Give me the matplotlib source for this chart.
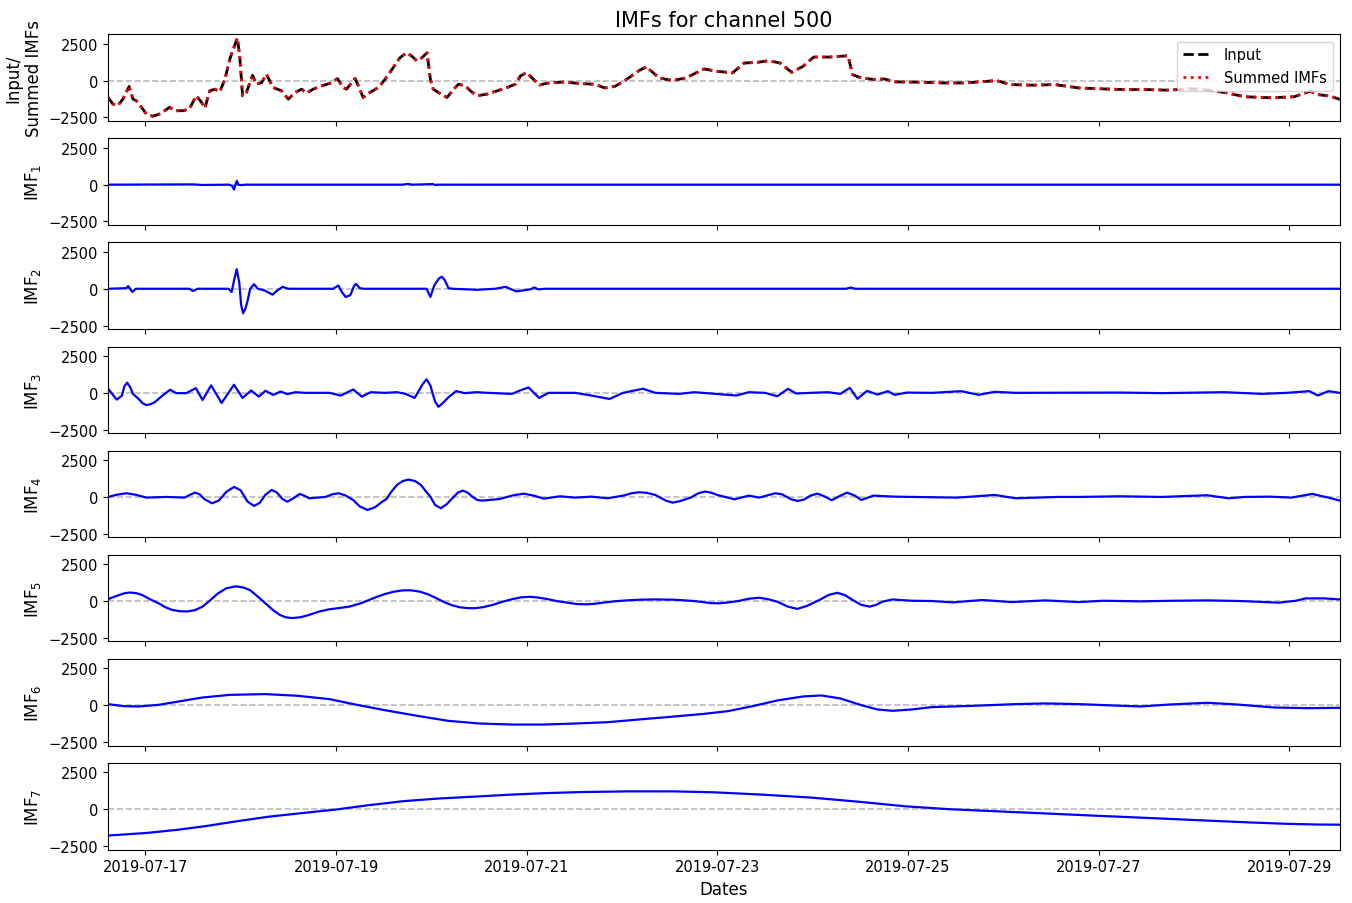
import numpy as np
import pandas as pd
import matplotlib
matplotlib.use('Agg')
import matplotlib.pyplot as plt
import matplotlib.dates as mdates

# time values are days after 2019-07-17 00:00
base = pd.Timestamp('2019-07-17')

input_t = [-0.39, -0.34, -0.29, -0.235, -0.17, -0.13, -0.095, -0.04, 0.01, 0.08, 0.15, 0.255, 0.31, 0.395,
           0.46, 0.535, 0.59, 0.625, 0.675, 0.73, 0.78, 0.835, 0.885, 0.94, 0.965, 0.99, 1.02, 1.06, 1.125,
           1.165, 1.22, 1.27, 1.34, 1.43, 1.50, 1.57, 1.64, 1.69, 1.76, 1.85, 1.94, 2.015, 2.075, 2.11, 2.20,
           2.235, 2.285, 2.355, 2.445, 2.515, 2.60, 2.67, 2.74, 2.795, 2.85, 2.90, 2.955, 2.99, 3.02, 3.09,
           3.165, 3.235, 3.285, 3.355, 3.41, 3.48, 3.585, 3.69, 3.795, 3.88, 3.935, 4.00, 4.085, 4.135, 4.24,
           4.40, 4.555, 4.715, 4.82, 4.925, 5.03, 5.185, 5.26, 5.29, 5.39, 5.53, 5.67, 5.86, 6.00, 6.16, 6.28,
           6.42, 6.54, 6.66, 6.78, 6.90, 7.01, 7.18, 7.37, 7.42, 7.51, 7.65, 7.75, 7.87, 8.13, 8.37, 8.60,
           8.93, 9.07, 9.31, 9.54, 9.79, 10.02, 10.26, 10.49, 10.73, 10.96, 11.10, 11.34, 11.53, 11.81,
           12.05, 12.22, 12.29, 12.43, 12.53]
input_v = [-1150, -1600, -1710, -1260, -400, -1260, -1370, -1820, -2270, -2430, -2270, -1820, -2050, -2050,
           -1935, -1035, -1485, -1870, -700, -585, -765, 90, 1440, 2450, 2900, 1665, -1035, -810, 360,
           -250, -135, 430, -470, -700, -1260, -810, -585, -855, -585, -360, -180, 135, -470, -585, 135,
           -360, -1150, -810, -470, 90, 880, 1550, 1890, 1665, 1330, 1550, 1890, 90, -585, -880,
           -1150, -585, -250, -360, -700, -1035, -920, -700, -470, -250, 315, 550, 0, -300, -150,
           -100, -200, -250, -500, -400, 0, 700, 950, 740, 180, 0, 180, 790, 630, 520, 1190,
           1240, 1350, 1190, 560, 970, 1600, 1600, 1690, 400, 180, 70, 110, -90, -110, -160, -160,
           0, -270, -315, -270, -500, -560, -610, -610, -650, -560, -610, -830, -1100, -1170,
           -1100, -720, -945, -1060, -1280]
# the summed IMFs lie on top of the input in the picture
summed_v = list(input_v)

imf1_t = [-0.39, 0.5, 0.6, 0.88, 0.91, 0.93, 0.945, 0.96, 0.975, 1.0, 1.05, 2.7, 2.75, 2.8, 3.02, 3.04,
          3.06, 12.53]
imf1_v = [0, 20, -20, 0, -80, -330, 0, 260, 0, -30, 0, 0, 50, 0, 40, -30, 0, 0]

imf2_t = [-0.39, -0.20, -0.18, -0.136, -0.10, 0.46, 0.50, 0.55, 0.875, 0.905, 0.935, 0.958, 0.985, 1.005,
          1.026, 1.05, 1.07, 1.10, 1.14, 1.18, 1.25, 1.335, 1.385, 1.44, 1.50, 1.97, 2.025, 2.06, 2.10,
          2.15, 2.19, 2.21, 2.25, 2.29, 2.95, 2.99, 3.03, 3.08, 3.11, 3.14, 3.18, 3.22, 3.48, 3.67, 3.78,
          3.89, 4.04, 4.08, 4.12, 4.2, 7.35, 7.4, 7.45, 12.53]
imf2_v = [0, 40, 180, -220, 0, 0, -150, 0, 0, -220, 700, 1330, 440, -1100,
          -1670, -1350, -890, 0, 310, 0, -110, -400, -110, 130, 0, 0, 220, -200, -555,
          -440, 200, 330, 40, 0, 0, -555, 220, 700, 820, 600, 40, 0, -70, 0, 130,
          -180, -40, 90, -40, 0, 0, 80, 0, 0]

imf3_t = [-0.39, -0.30, -0.245, -0.22, -0.19, -0.16, -0.13, -0.07, -0.03, 0.01, 0.05, 0.095, 0.18, 0.26,
          0.325, 0.43, 0.53, 0.60, 0.69, 0.80, 0.93, 1.02, 1.11, 1.19, 1.26, 1.34, 1.42, 1.49, 1.575, 1.68,
          1.93, 2.05, 2.18, 2.27, 2.365, 2.51, 2.64, 2.73, 2.825, 2.91, 2.95, 2.99, 3.01, 3.04, 3.075,
          3.12, 3.18, 3.26, 3.35, 3.47, 3.595, 3.845, 3.93, 4.02, 4.13, 4.23, 4.51, 4.68, 4.87, 5.01,
          5.22, 5.35, 5.60, 5.76, 5.85, 6.02, 6.20, 6.33, 6.50, 6.63, 6.74, 6.83, 6.98, 7.16, 7.29, 7.39,
          7.47, 7.57, 7.68, 7.79, 7.86, 7.99, 8.25, 8.56, 8.74, 8.91, 9.13, 10.22, 10.66, 11.32, 11.71,
          11.97, 12.21, 12.30, 12.41, 12.53]
imf3_v = [280, -460, -185, 450, 690, 400, -70, -415, -700, -830, -780, -650, -185, 210,
          -20, -20, 320, -485, 510, -690, 550, -345, 160, -255, 140, -140, 90, -90, 45, 0,
          0, -185, 230, -255, 45, 0, 45, -70, -345, 600, 920, 500, 45, -600, -950,
          -700, -300, 120, -20, 45, 0, -70, 160, 370, -345, 0, 0, -185, -415, 0,
          280, 0, -70, 45, 0, -90, -180, 45, 0, -230, 270, -45, 0, 45, -70, 340,
          -410, 135, -115, 115, -135, 20, 0, 115, -135, 70, 0, 20, -20, 45, -70,
          0, 115, -180, 115, 0]

imf4_t = [-0.39, -0.30, -0.20, -0.10, 0.01, 0.22, 0.41, 0.47, 0.52, 0.57, 0.62, 0.70, 0.77, 0.85, 0.93,
          1.00, 1.07, 1.14, 1.20, 1.26, 1.325, 1.38, 1.44, 1.49, 1.55, 1.62, 1.67, 1.72, 1.89, 1.96, 2.03,
          2.10, 2.18, 2.25, 2.33, 2.41, 2.48, 2.53, 2.58, 2.64, 2.70, 2.76, 2.83, 2.89, 2.94, 2.99, 3.04,
          3.10, 3.16, 3.22, 3.28, 3.33, 3.38, 3.43, 3.48, 3.53, 3.62, 3.72, 3.85, 3.97, 4.08, 4.18, 4.35,
          4.51, 4.68, 4.85, 5.02, 5.10, 5.18, 5.26, 5.35, 5.46, 5.53, 5.60, 5.72, 5.80, 5.87, 5.93, 6.00,
          6.18, 6.33, 6.44, 6.55, 6.61, 6.68, 6.77, 6.84, 6.91, 6.98, 7.05, 7.12, 7.20, 7.28, 7.36, 7.44,
          7.51, 7.64, 7.86, 8.25, 8.52, 8.91, 9.13, 9.57, 9.79, 10.22, 10.66, 11.14, 11.36, 11.53, 11.80,
          12.02, 12.24, 12.41, 12.53]
imf4_v = [0, 150, 250, 150, -45, 0, -45, 150, 295, 180, -150, -430, -250, 350, 680,
          450, -300, -610, -400, 150, 475, 300, -150, -320, -100, 205, 80, -90, 0, 180, 250,
          100, -205, -650, -885, -700, -350, -135, 350, 820, 1080, 1180, 1080, 820, 400, 20, -550,
          -770, -500, -90, 300, 430, 300, 20, -200, -250, -200, -135, 100, 225, 80, -115, 45,
          -45, 20, -90, 100, 250, 320, 280, 135, -250, -385, -300, -45, 250, 365, 300, 135,
          -160, 90, -45, 150, 250, 180, -150, -270, -180, 100, 225, 50, -225, 50, 295, 100,
          -205, 90, 20, -20, -45, 135, -90, 0, 0, 45, 0, 115, -90, 0, 20,
          -45, 205, -45, -250]

imf5_t = [-0.39, -0.33, -0.28, -0.22, -0.16, -0.09, -0.03, 0.05, 0.14, 0.21, 0.28, 0.36, 0.44, 0.52, 0.60,
          0.68, 0.76, 0.85, 0.95, 1.03, 1.10, 1.18, 1.26, 1.34, 1.41, 1.47, 1.54, 1.63, 1.72, 1.82, 1.93,
          2.04, 2.14, 2.26, 2.35, 2.43, 2.52, 2.60, 2.69, 2.78, 2.88, 2.97, 3.06, 3.14, 3.22, 3.30, 3.38,
          3.45, 3.54, 3.64, 3.75, 3.85, 3.94, 4.03, 4.12, 4.22, 4.33, 4.43, 4.52, 4.62, 4.71, 4.80, 4.92,
          5.05, 5.20, 5.35, 5.55, 5.76, 5.85, 5.93, 6.02, 6.12, 6.22, 6.33, 6.44, 6.53, 6.63, 6.74, 6.84,
          6.94, 7.07, 7.17, 7.26, 7.34, 7.42, 7.51, 7.60, 7.67, 7.73, 7.84, 7.94, 8.04, 8.25, 8.47, 8.78,
          9.09, 9.44, 9.79, 10.05, 10.44, 10.79, 11.14, 11.49, 11.89, 12.07, 12.17, 12.37, 12.53]
imf5_v = [130, 280, 400, 530, 580, 530, 400, 120, -155, -420, -600, -690, -710, -620, -380,
          50, 510, 870, 1000, 920, 735, 300, -155, -620, -940, -1100, -1160, -1100, -940, -720, -560,
          -470, -380, -155, 80, 290, 490, 625, 720, 735, 640, 445, 170, -90, -290, -425, -480,
          -490, -420, -270, -40, 130, 250, 290, 240, 130, -20, -110, -200, -225, -190, -110, -20,
          45, 95, 110, 90, 0, -70, -140, -155, -90, 0, 160, 225, 130, -45, -380, -535,
          -330, 70, 420, 560, 400, 70, -260, -380, -250, -45, 110, 60, 20, 0, -90, 70,
          -70, 45, -70, 20, -20, 20, 45, 0, -110, 20, 180, 180, 110]

imf6_t = [-0.39, -0.23, -0.07, 0.14, 0.35, 0.60, 0.89, 1.26, 1.59, 1.93, 2.22, 2.51, 2.85, 3.18, 3.51,
          3.85, 4.18, 4.51, 4.85, 5.18, 5.51, 5.85, 6.11, 6.37, 6.63, 6.90, 7.09, 7.29, 7.51, 7.68, 7.84,
          8.04, 8.25, 8.69, 9.13, 9.44, 9.79, 10.14, 10.44, 10.75, 11.14, 11.45, 11.84, 12.19, 12.53]
imf6_v = [70, -70, -90, 20, 250, 520, 700, 750, 640, 410, 20, -340, -725, -1070, -1250,
          -1320, -1320, -1250, -1160, -975, -795, -600, -410, -70, 320, 590, 660, 455, 0, -295, -385,
          -295, -135, -45, 70, 115, 70, -20, -90, 45, 160, 45, -160, -205, -180]

imf7_t = [-0.39, 0.02, 0.35, 0.63, 0.96, 1.29, 1.67, 2.00, 2.33, 2.71, 3.08, 3.46, 3.84, 4.22, 4.59,
          5.07, 5.54, 5.97, 6.45, 6.97, 7.50, 7.97, 8.44, 8.96, 9.49, 10.00, 10.54, 11.06, 11.59, 12.01,
          12.30, 12.53]
imf7_v = [-1790, -1610, -1390, -1150, -820, -510, -245, -20, 265, 550, 730, 860, 995, 1100, 1170,
          1215, 1215, 1150, 1000, 800, 500, 200, 0, -150, -300, -450, -600, -750, -900, -1000,
          -1040, -1050]

imf_t = [imf1_t, imf2_t, imf3_t, imf4_t, imf5_t, imf6_t, imf7_t]
imf_v = [imf1_v, imf2_v, imf3_v, imf4_v, imf5_v, imf6_v, imf7_v]


def to_dates(days):
    return base + pd.to_timedelta(np.array(days), unit='D')


fig, axes = plt.subplots(8, 1, figsize=(13.52, 9.04), dpi=100, sharex=True, sharey=True)
fig.subplots_adjust(left=0.08, right=0.991, top=0.961, bottom=0.059, hspace=0.2)

ax = axes[0]
ax.axhline(0, color='#bbbbbb', ls='--', lw=1.2)
ax.plot(to_dates(input_t), input_v, 'k--', lw=2, label='Input')
ax.plot(to_dates(input_t), summed_v, 'r:', lw=2, label='Summed IMFs')
ax.set_ylabel('Input/\nSummed IMFs', fontsize=12)
ax.legend(loc='upper right', fontsize=10.5)
ax.set_title('IMFs for channel 500', fontsize=15)

for i in range(7):
    ax = axes[i + 1]
    ax.axhline(0, color='#bbbbbb', ls='--', lw=1.2)
    ax.plot(to_dates(imf_t[i]), imf_v[i], 'b', lw=1.6)
    ax.set_ylabel('IMF$_%d$' % (i + 1), fontsize=12)

for ax in axes:
    ax.set_yticks([-2500, 0, 2500])
    ax.tick_params(labelsize=10.5)

axes[0].set_ylim(-2750, 3150)
axes[0].set_xlim(to_dates([input_t[0]])[0], to_dates([input_t[-1]])[0])
axes[-1].xaxis.set_major_locator(mdates.DayLocator(interval=2))
axes[-1].xaxis.set_major_formatter(mdates.DateFormatter('%Y-%m-%d'))
axes[-1].set_xlabel('Dates', fontsize=12)
fig.align_ylabels(axes)

fig.savefig('out.png', dpi=100)
